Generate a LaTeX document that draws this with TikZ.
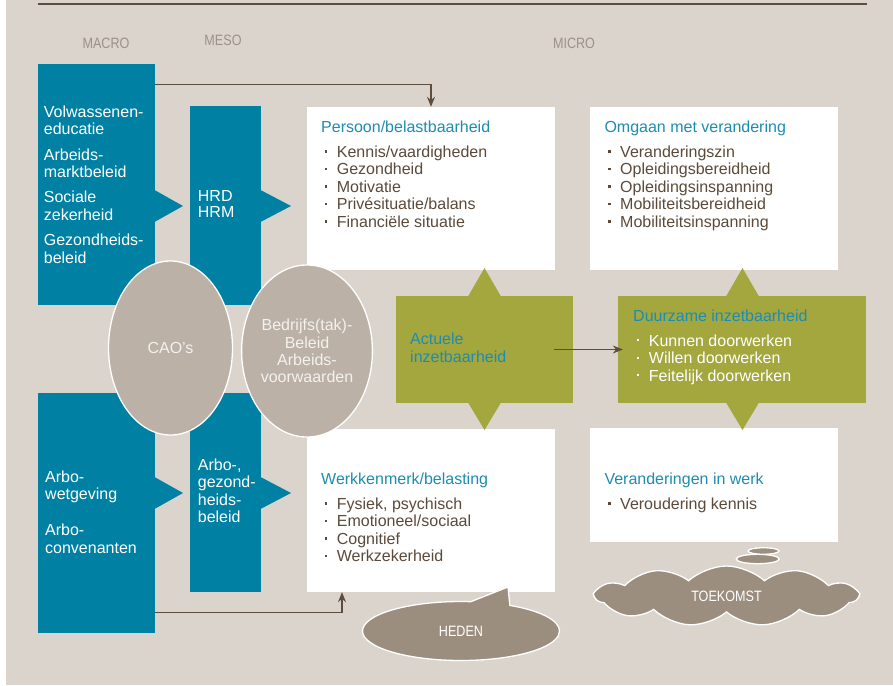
\documentclass[tikz,border=0pt]{standalone}
\usepackage{fontspec}
\setmainfont{Liberation Sans}
\newfontfamily\condfont[FakeStretch=0.84]{Liberation Sans}
\usetikzlibrary{arrows.meta,shapes.geometric,shapes.symbols,shapes.callouts}
\definecolor{bgcol}{HTML}{DAD4CD}
\definecolor{bluecol}{HTML}{0081A3}
\definecolor{greencol}{HTML}{A3A73E}
\definecolor{ovalcol}{HTML}{BBB1A7}
\definecolor{bubblecol}{HTML}{9C8E7E}
\definecolor{titlecol}{HTML}{1E8CB2}
\definecolor{textcol}{HTML}{5B4A3A}
\definecolor{linecol}{HTML}{5E4D3D}
\definecolor{labcol}{HTML}{9B9188}
\definecolor{ovaltext}{HTML}{F4F1EE}
\newcommand\itm{\hbox to 15.7pt{\hskip3.9pt\raisebox{4.6pt}{\rule{2.3pt}{2.3pt}}\hfil}}
\begin{document}
\begin{tikzpicture}[x=1pt,y=-1pt,
  txt/.style={inner sep=0pt, font=\fontsize{16}{17.5}\selectfont, align=left, anchor=base west},
  titletxt/.style={txt, text=titlecol},
  itemtxt/.style={txt, text=textcol},
  whitetxt/.style={txt, text=white},
  lab/.style={inner sep=0pt, anchor=base, font=\condfont\fontsize{15}{17}\selectfont, text=labcol},
  bluebox/.style={fill=bluecol, inner sep=0pt, draw=none},
  whitebox/.style={fill=white, inner sep=0pt, draw=none},
  greenbox/.style={fill=greencol, inner sep=0pt, draw=none},
  ovalnode/.style={ellipse, fill=ovalcol, draw=white, line width=1.3pt, inner sep=0pt, text=ovaltext, align=center, font=\fontsize{16}{17.3}\selectfont},
  bubble/.style={fill=bubblecol, draw=white, line width=1.3pt, inner sep=0pt, text=white, font=\condfont\fontsize{15}{17}\selectfont},
  conn/.style={draw=linecol, line width=1.3pt, -{Stealth[length=10pt,width=8pt]}},
  topline/.style={draw=linecol, line width=1.2pt}
]
\useasboundingbox (0,0) rectangle (893,685);
\fill[bgcol] (6,0) rectangle (893,685);
\draw[topline] (38,4) -- (867,4);

% column labels
\node[lab] (macro) at (106,48.3) {MACRO};
\node[lab] (meso) at (223,45.7) {MESO};
\node[lab] (micro) at (574,48.3) {MICRO};

% blue boxes
\node[bluebox, minimum width=117, minimum height=241] (macroA) at (96.5,184.5) {};
\node[bluebox, minimum width=71, minimum height=199] (mesoA) at (225.5,205.5) {};
\node[bluebox, minimum width=117, minimum height=240] (macroB) at (96.5,513) {};
\node[bluebox, minimum width=71, minimum height=199] (mesoB) at (225.5,492.5) {};
\fill[bluecol] (154.5,190) -- (183,206) -- (154.5,222) -- cycle;
\fill[bluecol] (260.5,190) -- (291,206) -- (260.5,222) -- cycle;
\fill[bluecol] (154.5,477) -- (183,493) -- (154.5,509) -- cycle;
\fill[bluecol] (260.5,477) -- (291,493) -- (260.5,509) -- cycle;

% white boxes
\node[whitebox, minimum width=248, minimum height=163] (persoon) at (431,188.5) {};
\node[whitebox, minimum width=248, minimum height=163] (omgaan) at (714,188.5) {};
\node[whitebox, minimum width=248, minimum height=163] (werk) at (431,510.5) {};
\node[whitebox, minimum width=248, minimum height=114] (verand) at (714,485) {};

% green boxes
\node[greenbox, minimum width=177, minimum height=107] (actuele) at (484.5,349.5) {};
\node[greenbox, minimum width=248, minimum height=107] (duurzaam) at (742,349.5) {};
\fill[greencol] (468,296.5) -- (484.5,268) -- (501,296.5) -- cycle;
\fill[greencol] (468,402.5) -- (484.5,430) -- (501,402.5) -- cycle;
\fill[greencol] (726,296.5) -- (742.5,268) -- (759,296.5) -- cycle;
\fill[greencol] (726,402.5) -- (742.5,430) -- (759,402.5) -- cycle;

% texts in blue boxes (anchor = baseline of last line)
\node[whitetxt] (macroAT) at (43.7,263) {Volwassenen-\\educatie\\[7.7pt]Arbeids-\\marktbeleid\\[7.7pt]Sociale\\zekerheid\\[7.7pt]Gezondheids-\\beleid};
\node[whitetxt, font=\fontsize{16}{16.7}\selectfont] (mesoAT) at (197.7,217.7) {HRD\\HRM};
\node[whitetxt] (macroBT) at (45,553) {Arbo-\\wetgeving\\[18.5pt]Arbo-\\convenanten};
\node[whitetxt] (mesoBT) at (197.7,522.5) {Arbo-,\\gezond-\\heids-\\beleid};

% texts in white boxes
\node[titletxt] (persoonT) at (321,132.3) {Persoon/belastbaarheid};
\node[itemtxt] (persoonL) at (321,227.3) {\itm Kennis/vaardigheden\\\itm Gezondheid\\\itm Motivatie\\\itm Privésituatie/balans\\\itm Financiële situatie};
\node[titletxt] (omgaanT) at (604.3,132.3) {Omgaan met verandering};
\node[itemtxt] (omgaanL) at (604.3,227.3) {\itm Veranderingszin\\\itm Opleidingsbereidheid\\\itm Opleidingsinspanning\\\itm Mobiliteitsbereidheid\\\itm Mobiliteitsinspanning};
\node[titletxt] (werkT) at (321,484.3) {Werkkenmerk/belasting};
\node[itemtxt] (werkL) at (321,561.8) {\itm Fysiek, psychisch\\\itm Emotioneel/sociaal\\\itm Cognitief\\\itm Werkzekerheid};
\node[titletxt] (verandT) at (604.3,484.3) {Veranderingen in werk};
\node[itemtxt] (verandL) at (604.3,509.3) {\itm Veroudering kennis};

% texts in green boxes
\node[titletxt] (actueleT) at (410,362) {Actuele\\inzetbaarheid};
\node[titletxt] (duurT) at (633,321) {Duurzame inzetbaarheid};
\node[whitetxt] (duurL) at (633,381) {\itm Kunnen doorwerken\\\itm Willen doorwerken\\\itm Feitelijk doorwerken};

% ovals
\node[ovalnode, minimum width=124, minimum height=174] (cao) at (170.5,348) {CAO’s};
\node[ovalnode, minimum width=124, minimum height=172] (bedrijf) at (307,351) {Bedrijfs(tak)-\\Beleid\\Arbeids-\\voorwaarden};

% connectors
\draw[conn] ([yshift=-21pt]macroA.north east) -| (persoon.north);
\draw[conn] ([yshift=21pt]macroB.south east) -| ([xshift=-89pt]werk.south);
\draw[conn] ([xshift=-19pt]actuele.east) -- ([xshift=5pt]duurzaam.west);

% heden bubble
\coordinate (hedtip) at (508,587);
\node[bubble, ellipse callout, callout absolute pointer={(hedtip)}, callout pointer arc=24, minimum width=197, minimum height=59] (heden) at (461,631) {HEDEN};

% toekomst cloud
\node[bubble, cloud, cloud puffs=11, cloud puff arc=85, aspect=4, minimum width=262, minimum height=60] (toekomst) at (726.5,596) {TOEKOMST};
\node[bubble, ellipse, minimum width=43, minimum height=9.4] (thA) at (757.7,559) {};
\node[bubble, ellipse, minimum width=31, minimum height=6.5] (thB) at (763.5,551) {};
\end{tikzpicture}
\end{document}
